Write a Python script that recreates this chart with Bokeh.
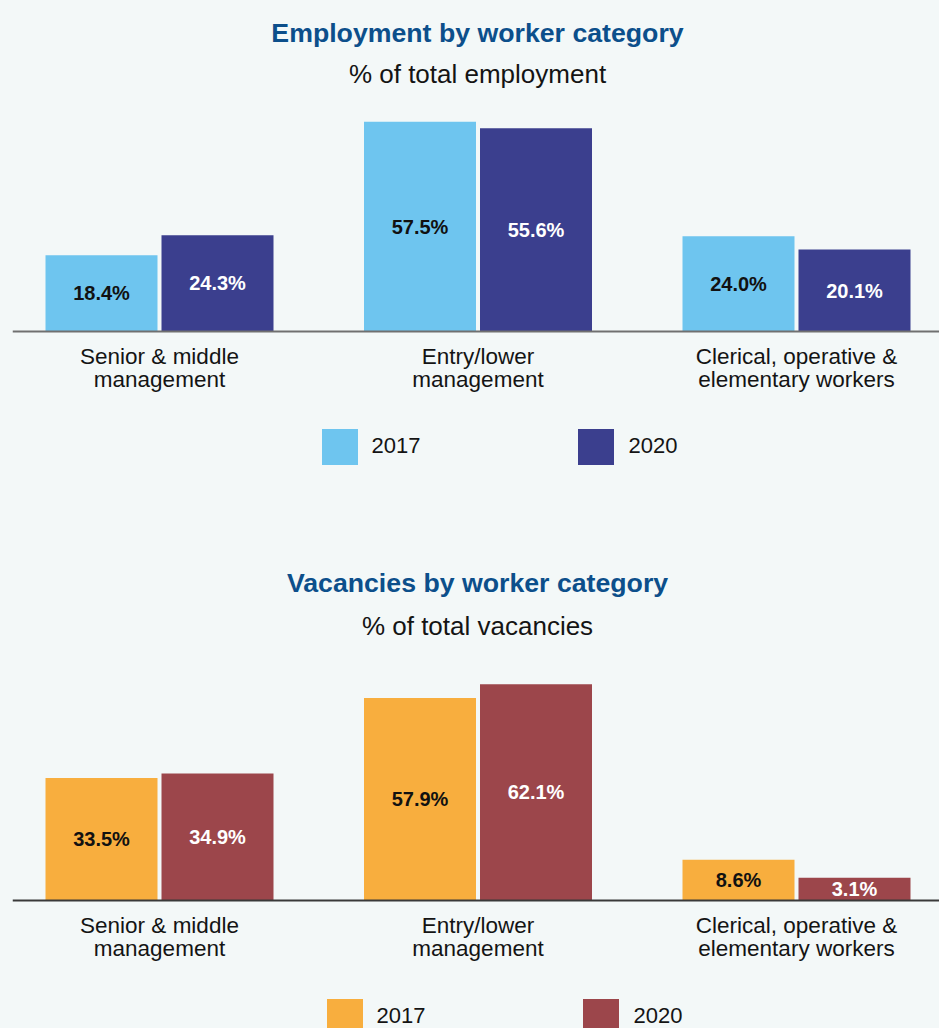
import numpy as np
from bokeh.plotting import figure
from bokeh.models import (Range1d, FixedTicker, Label, Legend, LegendItem,
                          ColumnDataSource, GlobalInlineStyleSheet)
from bokeh.layouts import column
from bokeh.embed import file_html
from bokeh.resources import INLINE
from bokeh.core.properties import value

# ---------------- data ----------------
categories = ["Senior & middle\nmanagement",
              "Entry/lower\nmanagement",
              "Clerical, operative &\nelementary workers"]
years = ["2017", "2020"]
employment_2017 = [18.4, 57.5, 24.0]
employment_2020 = [24.3, 55.6, 20.1]
vacancies_2017 = [33.5, 57.9, 8.6]
vacancies_2020 = [34.9, 62.1, 3.1]

# ---------------- style ----------------
FONT = "Liberation Sans"
BG = "#f3f8f8"
TITLE_BLUE = "#0c4f8b"
TEXT = "#141414"
WIDTH = 939
LEFT = 12
X_PX_PER_UNIT = 318.5
FIRST_CENTER_PX = 147.0       # first group centre, px from frame left
BAR_W = 112 / X_PX_PER_UNIT
OFFSET = 58 / X_PX_PER_UNIT


def make_chart(title, subtitle, v17, v20, c17, c20, height, axis_px,
               px_per_unit, axis_min, axis_color, title_y, sub_y,
               legend_pos):
    frame_w = WIDTH - LEFT
    x_start = -FIRST_CENTER_PX / X_PX_PER_UNIT
    x_end = x_start + frame_w / X_PX_PER_UNIT
    y_start = axis_min - (height - axis_px) / px_per_unit
    y_end = axis_min + axis_px / px_per_unit

    p = figure(width=WIDTH, height=height,
               x_range=Range1d(x_start, x_end),
               y_range=Range1d(y_start, y_end),
               output_backend="svg", toolbar_location=None,
               y_axis_location=None,
               min_border_left=LEFT, min_border_right=0,
               min_border_top=0, min_border_bottom=0)
    p.background_fill_color = BG
    p.border_fill_color = BG
    p.outline_line_color = None
    p.grid.visible = False

    idx = np.arange(len(categories))
    src = ColumnDataSource(dict(
        x17=idx - OFFSET, x20=idx + OFFSET,
        v17=v17, v20=v20,
        m17=[(axis_min + v) / 2 for v in v17],
        m20=[(axis_min + v) / 2 for v in v20],
        t17=[f"{v:.1f}%" for v in v17],
        t20=[f"{v:.1f}%" for v in v20],
    ))

    r17 = p.vbar(x="x17", top="v17", bottom=axis_min, width=BAR_W,
                 fill_color=c17, line_color=None, source=src)
    r20 = p.vbar(x="x20", top="v20", bottom=axis_min, width=BAR_W,
                 fill_color=c20, line_color=None, source=src)

    common = dict(text_align="center", text_baseline="middle",
                  text_font=value(FONT), text_font_style="bold",
                  text_font_size="20px", source=src)
    p.text(x="x17", y="m17", text="t17", text_color="#111111", **common)
    p.text(x="x20", y="m20", text="t20", text_color="#ffffff", **common)

    ax = p.xaxis[0]
    ax.fixed_location = axis_min
    ax.ticker = FixedTicker(ticks=[int(i) for i in idx])
    ax.major_label_overrides = {int(i): c for i, c in enumerate(categories)}
    ax.major_label_text_font = FONT
    ax.major_label_text_font_size = "22.5px"
    ax.major_label_text_color = TEXT
    ax.major_label_text_line_height = 0.94
    ax.major_label_standoff = 6
    ax.major_tick_line_color = None
    ax.minor_tick_line_color = None
    ax.axis_line_color = axis_color
    ax.axis_line_width = 2

    legend = Legend(items=[LegendItem(label=years[0], renderers=[r17]),
                           LegendItem(label=years[1], renderers=[r20])],
                    location=legend_pos, orientation="horizontal",
                    glyph_width=45, glyph_height=45, label_standoff=10,
                    spacing=153, padding=0, margin=0,
                    border_line_color=None, background_fill_alpha=0,
                    label_text_font=FONT, label_text_font_size="22px",
                    label_text_color=TEXT)
    p.add_layout(legend)

    cx = 477 - LEFT
    p.add_layout(Label(x=cx, y=title_y, x_units="screen", y_units="screen",
                       text=title, text_align="center",
                       text_baseline="alphabetic", text_font=FONT,
                       text_font_size="26.7px", text_font_style="bold",
                       text_color=TITLE_BLUE))
    p.add_layout(Label(x=cx, y=sub_y, x_units="screen", y_units="screen",
                       text=subtitle, text_align="center",
                       text_baseline="alphabetic", text_font=FONT,
                       text_font_size="26px", text_color=TEXT))
    return p


p1 = make_chart("Employment by worker category", "% of total employment",
                employment_2017, employment_2020, "#6ec5ef", "#3b3f8e",
                height=520, axis_px=331, px_per_unit=3.42, axis_min=-3.86,
                axis_color="#707070", title_y=488, sub_y=447,
                legend_pos=(304.5, 51.5))
p2 = make_chart("Vacancies by worker category", "% of total vacancies",
                vacancies_2017, vacancies_2020, "#f8ae3e", "#9c464b",
                height=508, axis_px=380, px_per_unit=3.282, axis_min=-3.82,
                axis_color="#3a3a3a", title_y=446, sub_y=403,
                legend_pos=(309.5, -10.5))

layout = column(p1, p2, spacing=0)
layout.stylesheets = [GlobalInlineStyleSheet(
    css="html, body { background-color: #f3f8f8; }")]

open("out.html", "w").write(file_html(layout, INLINE))
